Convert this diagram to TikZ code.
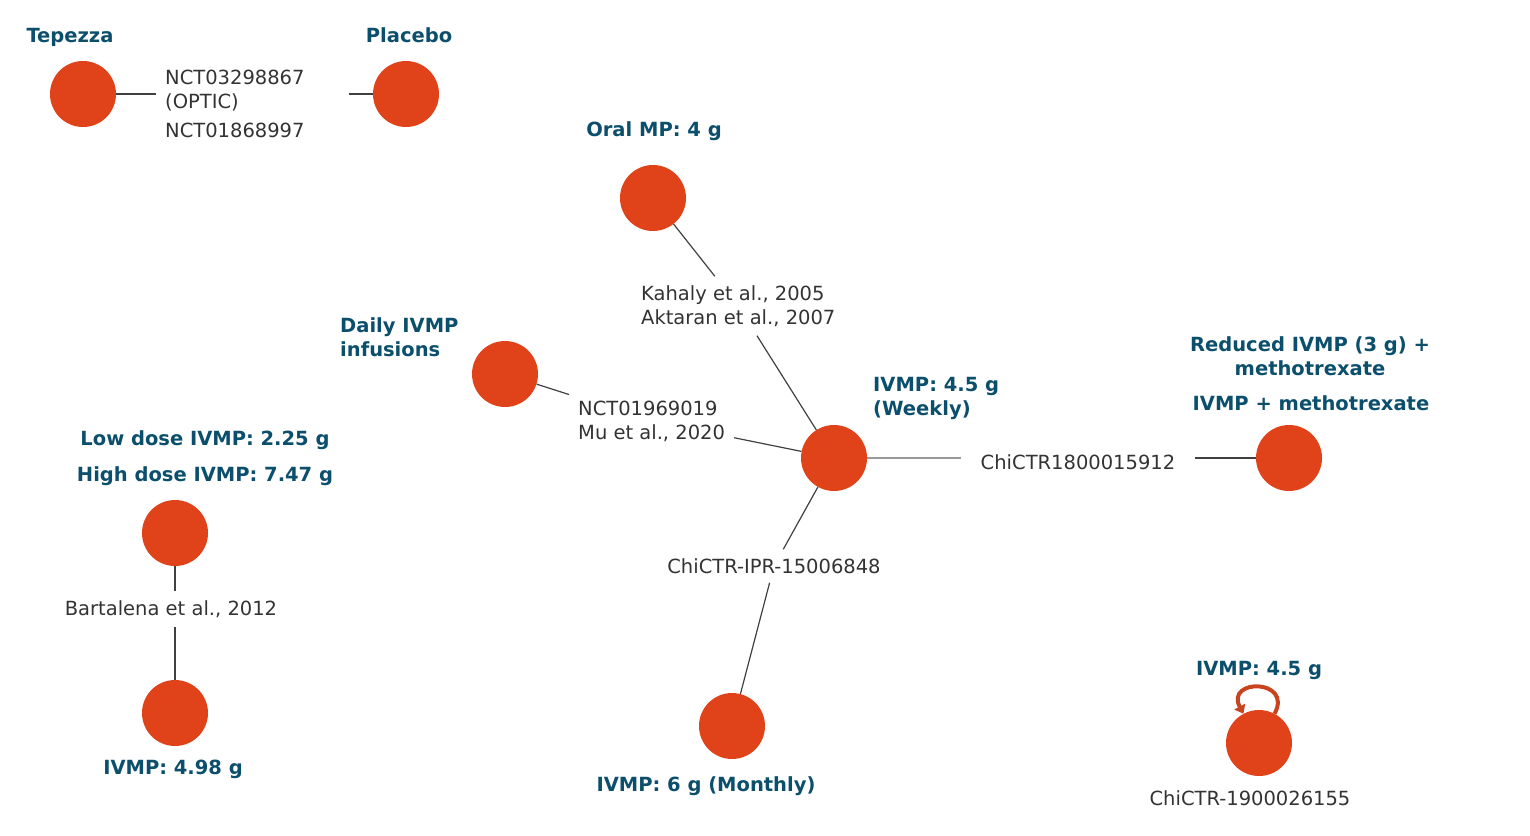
\documentclass[tikz,border=0pt]{standalone}
\usepackage{fontspec}
\setmainfont{DejaVu Sans}
\usetikzlibrary{arrows.meta}
\definecolor{armfill}{HTML}{E0421A}
\definecolor{armtext}{HTML}{0B4F6C}
\definecolor{trialtext}{HTML}{333333}
\definecolor{loopred}{HTML}{C8431E}

\begin{document}
\begin{tikzpicture}[x=1pt,y=-1pt,
  arm/.style={circle,fill=armfill,minimum size=66pt,inner sep=0pt},
  armlabel/.style={text=armtext,font=\fontsize{19.5}{24}\selectfont\bfseries,align=center,inner sep=0pt},
  trial/.style={text=trialtext,font=\fontsize{19.5}{24}\selectfont,align=left,inner sep=9pt},
  link/.style={draw=black!75,line width=1.2pt},
  selfloop/.style={draw=loopred,line width=4pt,-{Triangle[length=8pt,width=12pt]}}]
  \useasboundingbox (0,0) rectangle (1530,835);
  % Arms
  \node[arm] (tepezza) at (83,94) {};
  \node[arm] (placebo) at (406,94) {};
  \node[arm] (oralmp) at (653,198) {};
  \node[arm] (daily) at (505,374) {};
  \node[arm] (weekly) at (834,458) {};
  \node[arm] (reduced) at (1289,458) {};
  \node[arm] (lowdose) at (175,533) {};
  \node[arm] (ivmp498) at (175,713) {};
  \node[arm] (monthly) at (732,726) {};
  \node[arm] (ivmpself) at (1259,743) {};
  % Arm labels
  \node[armlabel] (tepezzalbl) at (70,37) {Tepezza};
  \node[armlabel] (placebolbl) at (409,35) {Placebo};
  \node[armlabel] (oralmplbl) at (654,131) {Oral MP: 4 g};
  \node[armlabel,anchor=west,align=left] (dailylbl) at (340,337) {Daily IVMP\\infusions};
  \node[armlabel,anchor=west,align=left] (weeklylbl) at (873,398) {IVMP: 4.5 g\\(Weekly)};
  \node[armlabel] (reducedlbl) at (1310,356) {Reduced IVMP (3 g) +\\methotrexate};
  \node[armlabel] (mtxlbl) at (1311,403) {IVMP + methotrexate};
  \node[armlabel] (lowdoselbl) at (205,440) {Low dose IVMP: 2.25 g};
  \node[armlabel] (highdoselbl) at (205,476) {High dose IVMP: 7.47 g};
  \node[armlabel] (ivmp498lbl) at (173,769) {IVMP: 4.98 g};
  \node[armlabel] (monthlylbl) at (706,786) {IVMP: 6 g (Monthly)};
  \node[armlabel] (ivmpselflbl) at (1259,670) {IVMP: 4.5 g};
  % Trials
  \node[trial,anchor=west,text width=175pt] (optic) at (156,104) {NCT03298867\\(OPTIC)\\[5pt]NCT01868997};
  \node[trial,anchor=west] (kahaly) at (632,306) {Kahaly et al., 2005\\Aktaran et al., 2007};
  \node[trial,anchor=west] (mu) at (569,421) {NCT01969019\\Mu et al., 2020};
  \node[trial,inner xsep=20pt] (chictr18) at (1078,462) {ChiCTR1800015912};
  \node[trial] (ipr) at (774,566) {ChiCTR-IPR-15006848};
  \node[trial] (bartalena) at (171,609) {Bartalena et al., 2012};
  \node[trial] (chictr19) at (1250,798) {ChiCTR-1900026155};
  % Links
  \draw[link] (tepezza) -- (tepezza -| optic.west);
  \draw[link] (placebo -| optic.east) -- (placebo);
  \draw[link] (oralmp) -- (kahaly);
  \draw[link] (kahaly) -- (weekly);
  \draw[link] (daily) -- (mu);
  \draw[link] (mu) -- (weekly);
  \draw[link,draw=black!40,line width=2pt] (weekly) -- (weekly -| chictr18.west);
  \draw[link] (reduced -| chictr18.east) -- (reduced);
  \draw[link] (weekly) -- (ipr);
  \draw[link] (ipr) -- (monthly);
  \draw[link] (lowdose) -- (lowdose |- bartalena.north);
  \draw[link] (ivmp498 |- bartalena.south) -- (ivmp498);
  % Self comparison
  \draw[selfloop] (ivmpself) to[out=62,in=118,min distance=40pt] (ivmpself);
\end{tikzpicture}
\end{document}
